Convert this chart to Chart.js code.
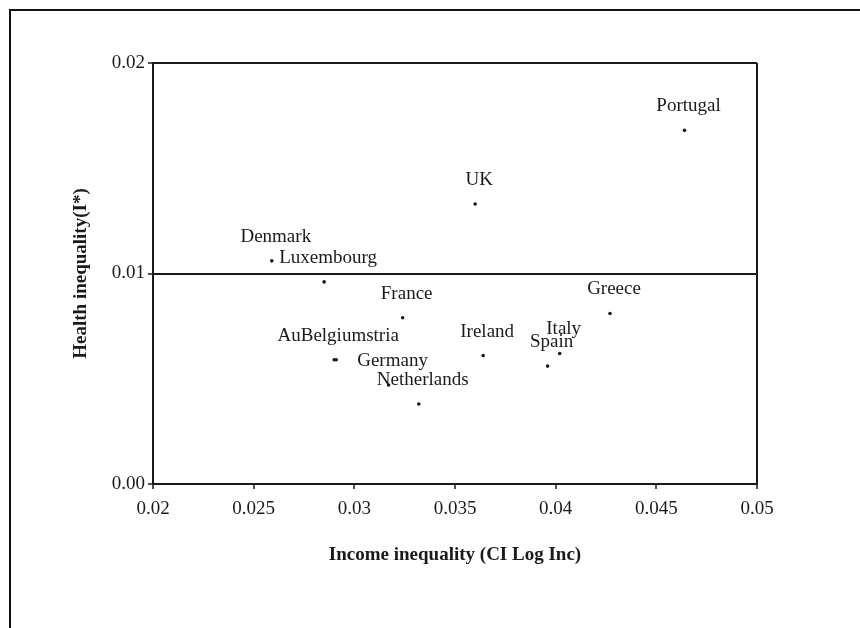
<!DOCTYPE html>
<html>
<head>
<meta charset="utf-8">
<script src="https://cdn.jsdelivr.net/npm/chart.js@4.4.1/dist/chart.umd.min.js"></script>
<style>
  html, body { margin: 0; padding: 0; background: #fff; overflow: hidden; }
  #frame {
    position: absolute; left: 9px; top: 9px; width: 1000px; height: 1000px;
    border-left: 2px solid #111; border-top: 2px solid #111;
  }
  #chart { position: absolute; left: 0; top: 0; }
</style>
</head>
<body>
<div id="frame"></div>
<canvas id="chart" width="860" height="628"></canvas>
<script>
// ── Données ───────────────────────────────────────────────────────────────────
const countries  = ['Portugal', 'UK', 'Denmark', 'Luxembourg', 'France', 'Austria', 'Belgium',
                    'Germany', 'Netherlands', 'Ireland', 'Italy', 'Spain', 'Greece'];
// libellés tels qu'imprimés (Austria et Belgium se chevauchent : "AuBelgiumstria")
const pointLabels = ['Portugal', 'UK', 'Denmark', 'Luxembourg', 'France', 'AuBelgiumstria', '',
                    'Germany', 'Netherlands', 'Ireland', 'Italy', 'Spain', 'Greece'];
const incomeIneq = [0.0464, 0.0360, 0.0259, 0.0285, 0.0324, 0.0290, 0.0291,
                    0.0317, 0.0332, 0.0364, 0.0402, 0.0396, 0.0427];
const healthIneq = [0.0168, 0.0133, 0.0106, 0.0096, 0.0079, 0.0059, 0.0059,
                    0.0047, 0.0038, 0.0061, 0.0062, 0.0056, 0.0081];

const xTicks = [0.02, 0.025, 0.03, 0.035, 0.04, 0.045, 0.05];
const yTicks = [0.00, 0.01, 0.02];

const FONT = "'Liberation Serif', 'Times New Roman', serif";
const INK  = '#1a1a1a';

const near = (a, b) => Math.abs(a - b) < 1e-9;

// ── Libellés au-dessus des points ─────────────────────────────────────────────
const labelPlugin = {
  id: 'pointLabels',
  afterDatasetsDraw(chart) {
    const ctx = chart.ctx;
    const meta = chart.getDatasetMeta(0);
    ctx.save();
    ctx.font = '19px ' + FONT;
    ctx.fillStyle = INK;
    ctx.textAlign = 'center';
    ctx.textBaseline = 'middle';
    meta.data.forEach((pt, i) => {
      if (!pointLabels[i]) return;
      ctx.fillText(pointLabels[i], pt.x + 4, pt.y - 24);
    });
    ctx.restore();
  },
};

new Chart(document.getElementById('chart'), {
  type: 'scatter',
  data: {
    datasets: [{
      label: 'Countries',
      data: countries.map((c, i) => ({ x: incomeIneq[i], y: healthIneq[i] })),
      backgroundColor: INK,
      borderColor: INK,
      pointRadius: 1.8,
      pointBorderWidth: 0,
    }],
  },
  options: {
    responsive: false,
    animation: false,
    layout: { padding: { left: 70, top: 63, right: 103, bottom: 62 } },
    plugins: {
      legend: { display: false },
      tooltip: { enabled: false },
    },
    scales: {
      x: {
        type: 'linear',
        min: xTicks[0],
        max: xTicks[xTicks.length - 1],
        afterBuildTicks: (s) => { s.ticks = xTicks.map(v => ({ value: v })); },
        afterFit: (s) => { s.height = 82; },
        border: { display: true, color: INK, width: 2 },
        grid: {
          color: (c) => (c.tick && near(c.tick.value, 0.05)) ? INK : 'rgba(0,0,0,0)',
          lineWidth: 2,
          tickColor: INK,
          tickLength: 5,
          tickWidth: 1.5,
        },
        ticks: {
          color: INK,
          font: { family: FONT, size: 19 },
          padding: 9,
          maxRotation: 0,
          callback: (v) => String(+v.toFixed(3)),
        },
        title: {
          display: true,
          text: 'Income inequality (CI Log Inc)',
          color: INK,
          font: { family: FONT, size: 19, weight: 'bold' },
          padding: { top: 0, bottom: 0 },
        },
      },
      y: {
        type: 'linear',
        min: yTicks[0],
        max: yTicks[yTicks.length - 1],
        afterBuildTicks: (s) => { s.ticks = yTicks.map(v => ({ value: v })); },
        afterFit: (s) => { s.width = 83; },
        border: { display: true, color: INK, width: 2 },
        grid: {
          color: (c) => (c.tick && (near(c.tick.value, 0.01) || near(c.tick.value, 0.02))) ? INK : 'rgba(0,0,0,0)',
          lineWidth: 2,
          tickColor: INK,
          tickLength: 5,
          tickWidth: 1.5,
        },
        ticks: {
          color: INK,
          font: { family: FONT, size: 19 },
          padding: 3,
          callback: (v) => v.toFixed(2),
        },
        title: {
          display: true,
          text: 'Health inequality(I*)',
          color: INK,
          font: { family: FONT, size: 19, weight: 'bold' },
          padding: { top: 0, bottom: 0 },
        },
      },
    },
  },
  plugins: [labelPlugin],
});
</script>
</body>
</html>
